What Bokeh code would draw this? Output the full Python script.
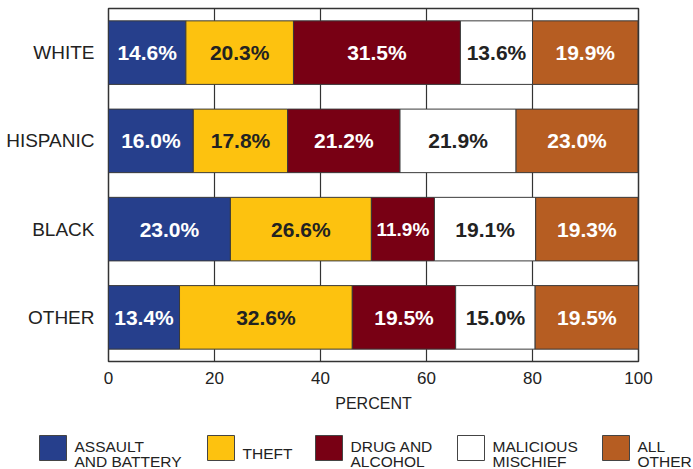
from bokeh.plotting import figure
from bokeh.models import ColumnDataSource, Range1d, FactorRange, FixedTicker
from bokeh.core.properties import value
from bokeh.embed import file_html
from bokeh.resources import INLINE

# ---- data ----
groups = ["WHITE", "HISPANIC", "BLACK", "OTHER"]
offenses = ["ASSAULT AND BATTERY", "THEFT", "DRUG AND ALCOHOL", "MALICIOUS MISCHIEF", "ALL OTHER"]
assault = [14.6, 16.0, 23.0, 13.4]
theft = [20.3, 17.8, 26.6, 32.6]
drug = [31.5, 21.2, 11.9, 19.5]
mischief = [13.6, 21.9, 19.1, 15.0]
other = [19.9, 23.0, 19.3, 19.5]
x_ticks = [0, 20, 40, 60, 80, 100]
legend_lines = [["ASSAULT", "AND BATTERY"], ["THEFT"], ["DRUG AND", "ALCOHOL"],
                ["MALICIOUS", "MISCHIEF"], ["ALL", "OTHER"]]

colors = ["#263F8C", "#FDC20F", "#780014", "#FFFFFF", "#B65D22"]
text_colors = ["#FFFFFF", "#222222", "#FFFFFF", "#222222", "#FFFFFF"]
FONT = "Liberation Sans"

series = [assault, theft, drug, mischief, other]

p = figure(width=693, height=418, x_range=Range1d(0, 100),
           y_range=FactorRange(factors=groups[::-1]),
           output_backend="svg", toolbar_location=None,
           min_border_left=108, min_border_right=55, min_border_top=8, min_border_bottom=57)

p.xgrid.ticker = FixedTicker(ticks=x_ticks)
p.xgrid.grid_line_color = "#333333"
p.xgrid.grid_line_width = 1.2
p.ygrid.grid_line_color = None
p.outline_line_color = "#333333"
p.outline_line_width = 1.5

p.xaxis.ticker = FixedTicker(ticks=x_ticks)
p.xaxis.axis_label = "PERCENT"
for ax in (p.xaxis, p.yaxis):
    ax.axis_line_color = None
    ax.major_tick_line_color = None
    ax.minor_tick_line_color = None
    ax.major_label_text_font = FONT
    ax.major_label_text_color = "#222222"
p.xaxis.major_label_text_font_size = "17px"
p.xaxis.major_label_standoff = 4
p.xaxis.axis_label_text_font = FONT
p.xaxis.axis_label_text_font_size = "16px"
p.xaxis.axis_label_text_font_style = "normal"
p.xaxis.axis_label_text_color = "#222222"
p.xaxis.axis_label_standoff = 8
p.yaxis.major_label_text_font_size = "19px"
p.yaxis.major_label_standoff = 8

lefts = [0.0] * len(groups)
for vals, col, tcol in zip(series, colors, text_colors):
    rights = [l + v for l, v in zip(lefts, vals)]
    src = ColumnDataSource(dict(
        y=groups, left=list(lefts), right=rights,
        xc=[l + v / 2 for l, v in zip(lefts, vals)],
        label=[f"{v:.1f}%" for v in vals],
        fs=["19px" if v < 13 else "21px" for v in vals],
    ))
    p.hbar(y="y", left="left", right="right", height=0.72, source=src,
           fill_color=col, line_color="#3a3a3a", line_width=1)
    p.text(x="xc", y="y", text="label", source=src, text_align="center",
           text_baseline="middle", text_font=value(FONT), text_font_style="bold",
           text_font_size="fs", text_color=tcol)
    lefts = rights

# ---- legend (separate root so it is not frame-aligned with the chart) ----
leg = figure(width=693, height=51, x_range=Range1d(0, 693), y_range=Range1d(51, 0),
             output_backend="svg", toolbar_location=None,
             x_axis_type=None, y_axis_type=None, min_border=0)
leg.grid.visible = False
leg.outline_line_color = None

box_left = [39, 207, 315, 457, 602]
leg.quad(left=box_left, right=[b + 27 for b in box_left], top=[17] * 5, bottom=[42] * 5,
         fill_color=colors, line_color="#444444", line_width=1)
tx, ty, tt = [], [], []
for b, lines in zip(box_left, legend_lines):
    if len(lines) == 1:
        tx.append(b + 35); ty.append(35); tt.append(lines[0])
    else:
        for i, ln in enumerate(lines):
            tx.append(b + 35); ty.append(28 + 15 * i); tt.append(ln)
leg.text(x=tx, y=ty, text=tt, text_baseline="alphabetic", text_font=value(FONT),
         text_font_size="15.5px", text_color="#222222")

open("out.html", "w").write(file_html([p, leg], INLINE))
